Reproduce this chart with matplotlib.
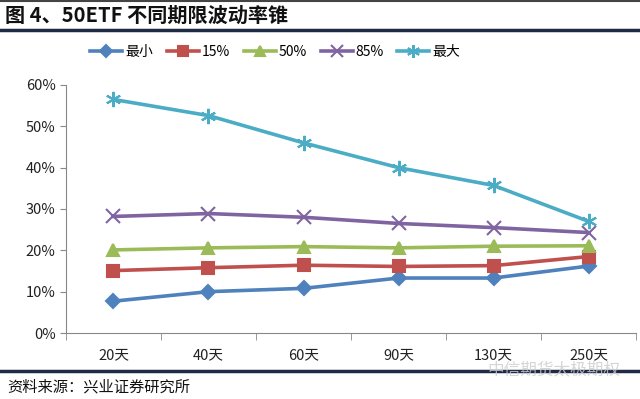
import matplotlib
matplotlib.use('Agg')
import matplotlib.pyplot as plt
from matplotlib.lines import Line2D
from matplotlib.ticker import PercentFormatter, FixedLocator

plt.rcParams['font.family'] = ['Noto Sans CJK SC', 'DejaVu Sans']

periods = ['20天', '40天', '60天', '90天', '130天', '250天']
vol_min = [7.7, 10.0, 10.8, 13.3, 13.3, 16.2]
vol_15 = [15.1, 15.8, 16.4, 16.1, 16.3, 18.5]
vol_50 = [20.1, 20.6, 20.9, 20.6, 21.0, 21.1]
vol_85 = [28.2, 28.9, 28.0, 26.5, 25.5, 24.3]
vol_max = [56.5, 52.6, 46.0, 40.0, 35.7, 27.0]
names = ['最小', '15%', '50%', '85%', '最大']

series = [vol_min, vol_15, vol_50, vol_85, vol_max]
colors = ['#4F81BD', '#C0504D', '#9BBB59', '#8064A2', '#4BACC6']
markers = ['D', 's', '^', 'x', (6, 2, 0)]
msizes = [7, 8.5, 9, 10, 11]

fig = plt.figure(figsize=(6.4, 3.99), dpi=100)
ax = fig.add_axes([0.103, 0.1654, 0.891, 0.6216])

x = list(range(len(periods)))
for vals, c, m, ms, nm in zip(series, colors, markers, msizes, names):
    ax.plot(x, vals, color=c, lw=2.6, marker=m, ms=ms, mew=1.5,
            mec=c, mfc=c, label=nm)

ax.set_xlim(-0.5, len(periods) - 0.5)
ax.set_ylim(0, 60)
ax.set_yticks(range(0, 61, 10))
ax.yaxis.set_major_formatter(PercentFormatter(decimals=0))
ax.set_xticks(x)
ax.set_xticklabels(periods)
ax.xaxis.set_minor_locator(FixedLocator([i - 0.5 for i in range(len(periods) + 1)]))
ax.tick_params(axis='x', which='major', length=0, pad=11, labelsize=10.5, colors='#222222')
ax.tick_params(axis='x', which='minor', length=5, direction='out', color='#888888')
ax.tick_params(axis='y', length=4, direction='out', color='#888888', labelsize=10.5,
               labelcolor='#222222')
for s in ['top', 'right']:
    ax.spines[s].set_visible(False)
for s in ['left', 'bottom']:
    ax.spines[s].set_color('#888888')

fig.legend(loc='center', bbox_to_anchor=(0.43, 0.87), ncol=5, frameon=False,
           fontsize=10, handlelength=2.3, handletextpad=0.2, columnspacing=1.0,
           markerscale=0.85)

# title block
fig.add_artist(Line2D([0, 1], [0.997, 0.997], color='#444444', lw=1.5))
fig.text(0.008, 0.962, '图 4、50ETF 不同期限波动率锥', fontsize=14.5, fontweight='bold',
         va='center', ha='left', color='#111111')
fig.add_artist(Line2D([0, 1], [0.924, 0.924], color='#1F2A44', lw=2.5))

# footer
fig.add_artist(Line2D([0, 1], [0.069, 0.069], color='#1F2A44', lw=2.5))
fig.text(0.012, 0.03, '资料来源：兴业证券研究所', fontsize=11, va='center', ha='left',
         color='#111111')
fig.text(0.97, 0.074, '中信期货太极期权', fontsize=12, va='center', ha='right',
         color='#cccccc', alpha=0.8)

fig.savefig('out.png', dpi=100)
